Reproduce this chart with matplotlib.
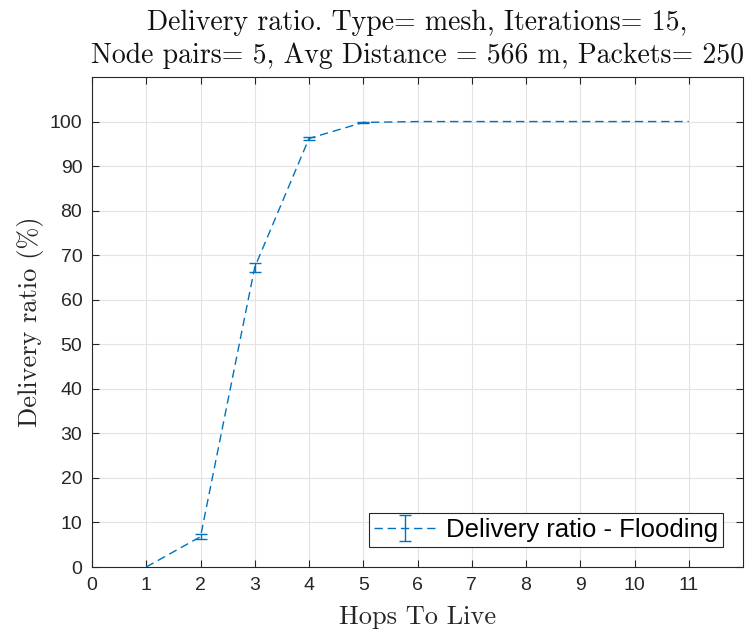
import matplotlib
matplotlib.use("Agg")
import matplotlib.pyplot as plt
import numpy as np

# hops-to-live vs delivery ratio (flooding)
hops = [1, 2, 3, 4, 5, 6, 7, 8, 9, 10, 11]
ratio = [0.0, 6.8, 67.3, 96.2, 99.8, 100.0, 100.0, 100.0, 100.0, 100.0, 100.0]
err = [0.0, 0.5, 1.0, 0.3, 0.2, 0.0, 0.0, 0.0, 0.0, 0.0, 0.0]

xticks = list(range(0, 12))
yticks = list(range(0, 101, 10))

title = ("Delivery ratio. Type= mesh, Iterations= 15,\n"
         "Node pairs= 5, Avg Distance = 566 m, Packets= 250")

plt.rcParams['font.family'] = ['Liberation Sans', 'DejaVu Sans']
plt.rcParams['axes.unicode_minus'] = False

fig = plt.figure(figsize=(7.5, 6.36), dpi=100)
ax = fig.add_axes([92/750, 1 - 567/636, (743-92)/750, (567-77)/636])

blue = '#0072BD'
# caps only drawn where the bar is non-zero (as in the original)
show_err = [e > 0 for e in err]
ax.errorbar(hops, ratio, yerr=err, color=blue, ls='--', lw=1.0,
            capsize=4.5, elinewidth=1.0, capthick=1.0, dashes=(6, 3.5),
            errorevery=show_err, label='Delivery ratio - Flooding')

ax.set_xlim(0, 12)
ax.set_ylim(0, 110)
ax.set_xticks(xticks)
ax.set_yticks(yticks)
ax.grid(True, color='#e3e3e3', lw=0.8)
ax.set_axisbelow(True)
ax.tick_params(direction='in', top=True, right=True, length=5,
               labelsize=14, colors='#262626', width=0.8, pad=7)
for s in ax.spines.values():
    s.set_color('#262626')
    s.set_linewidth(0.8)

ax.set_title(title, family='cmr10', fontsize=20, color='#111111',
             linespacing=1.3, pad=10)
ax.set_xlabel('Hops To Live', family='cmr10', fontsize=19, color='#262626',
              labelpad=8)
ax.set_ylabel('Delivery ratio (%)', family='cmr10', fontsize=19, color='#262626',
              labelpad=4)

leg = ax.legend(loc='lower right', fontsize=18.5, fancybox=False,
                edgecolor='#262626', framealpha=1, borderpad=0.2,
                handlelength=2.4, handletextpad=0.4, borderaxespad=0,
                bbox_to_anchor=(1 - 20/651, 20/490))
leg.get_frame().set_linewidth(0.8)

fig.savefig('out.png', dpi=100)
